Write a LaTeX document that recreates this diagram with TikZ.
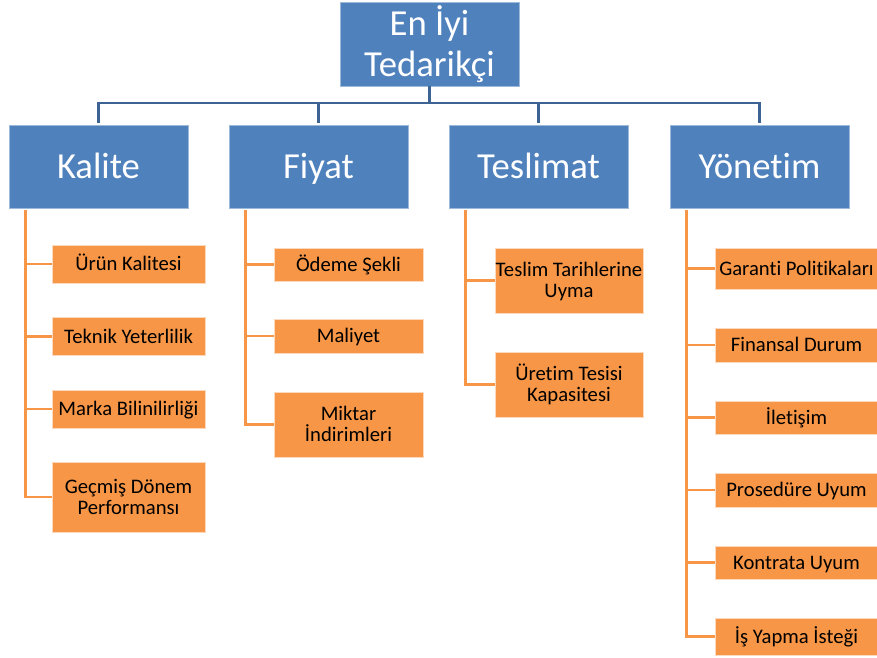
\documentclass[tikz,border=0pt]{standalone}
\usepackage{fontspec}
\setmainfont{Carlito}[Ligatures=NoCommon]
\definecolor{boxblue}{HTML}{4F81BD}
\definecolor{lineblue}{HTML}{3D6394}
\definecolor{boxorange}{HTML}{F79646}
\definecolor{edgeorange}{HTML}{FCD9BC}
\tikzset{topbox/.style={fill=boxblue, draw=boxblue!55!white, line width=0.6pt, text=white, inner sep=0pt, align=center,
    minimum width=134.25pt, text height=24.6pt, text depth=6.9pt, font=\fontsize{27.5}{31}\selectfont}}
\tikzset{catbox/.style={topbox, minimum height=62.25pt}}
\tikzset{itembox/.style={fill=boxorange, draw=edgeorange, line width=0.6pt, text=black, inner sep=0pt, align=center,
    text height=13.9pt, text depth=3.9pt, font=\fontsize{15.5}{15.5}\selectfont}}
\tikzset{twoline/.style={text height=29.4pt}}
\tikzset{bline/.style={draw=lineblue, line width=1.6pt}}
\tikzset{oline/.style={draw=boxorange, line width=2pt}}

\begin{document}
\begin{tikzpicture}[x=0.75pt, y=-0.75pt]
  \useasboundingbox (0,0) rectangle (877,657);
  % root and categories
  \node[topbox, minimum height=63pt, text height=55.6pt] (root) at (429.5,44) {En İyi\\Tedarikçi};
  \node[catbox] (kal) at (98.5,166.5) {Kalite};
  \node[catbox] (fiy) at (318.5,166.5) {Fiyat};
  \node[catbox] (tes) at (538.5,166.5) {Teslimat};
  \node[catbox] (yon) at (759.5,166.5) {Yönetim};
  \coordinate (bus) at (429.5,103);
  \draw[bline] (root.south) -- (bus);
  \foreach \c in {kal,fiy,tes,yon}
    \draw[bline] (bus) -| ([yshift=1.5pt]\c.north);

  % Kalite
  \node[itembox, minimum width=114.75pt, minimum height=28.5pt] (k1) at (128.5,264) {Ürün Kalitesi};
  \node[itembox, minimum width=114.75pt, minimum height=28.5pt] (k2) at (128.5,336.5) {Teknik Yeterlilik};
  \node[itembox, minimum width=114.75pt, minimum height=28.5pt] (k3) at (128.5,409) {Marka Bilinilirliği};
  \node[itembox, twoline, minimum width=114.75pt, minimum height=52.5pt] (k4) at (128.5,497) {Geçmiş Dönem\\Performansı};

  % Fiyat
  \node[itembox, minimum width=111.75pt, minimum height=24.75pt] (f1) at (348.5,264.5) {Ödeme Şekli};
  \node[itembox, minimum width=111.75pt, minimum height=25.5pt] (f2) at (348.5,336) {Maliyet};
  \node[itembox, twoline, minimum width=111.75pt, minimum height=48.75pt] (f3) at (348.5,424.5) {Miktar\\İndirimleri};

  % Teslimat
  \node[itembox, twoline, minimum width=111pt, minimum height=48.75pt] (t1) at (569,280.5) {Teslim Tarihlerine\\Uyma};
  \node[itembox, twoline, minimum width=111pt, minimum height=48.75pt] (t2) at (569,384.5) {Üretim Tesisi\\Kapasitesi};

  % Yönetim
  \node[itembox, minimum width=122.25pt, minimum height=30.75pt] (y1) at (796.5,268.5) {Garanti Politikaları};
  \node[itembox, minimum width=122.25pt, minimum height=25.5pt] (y2) at (796.5,345) {Finansal Durum};
  \node[itembox, minimum width=122.25pt, minimum height=24.75pt] (y3) at (796.5,417.5) {İletişim};
  \node[itembox, minimum width=122.25pt, minimum height=25.5pt] (y4) at (796.5,490) {Prosedüre Uyum};
  \node[itembox, minimum width=122.25pt, minimum height=24.75pt] (y5) at (796.5,562.5) {Kontrata Uyum};
  \node[itembox, minimum width=122.25pt, minimum height=27.75pt] (y6) at (796.5,636.5) {İş Yapma İsteği};

  % orange connectors
  \foreach \b in {k1,k2,k3,k4}
    \draw[oline] ([xshift=12.5pt,yshift=-1.5pt]kal.south west) |- (\b.west);
  \foreach \b in {f1,f2,f3}
    \draw[oline] ([xshift=12.5pt,yshift=-1.5pt]fiy.south west) |- (\b.west);
  \foreach \b in {t1,t2}
    \draw[oline] ([xshift=12.5pt,yshift=-1.5pt]tes.south west) |- (\b.west);
  \foreach \b in {y1,y2,y3,y4,y5,y6}
    \draw[oline] ([xshift=12.5pt,yshift=-1.5pt]yon.south west) |- (\b.west);
\end{tikzpicture}
\end{document}
